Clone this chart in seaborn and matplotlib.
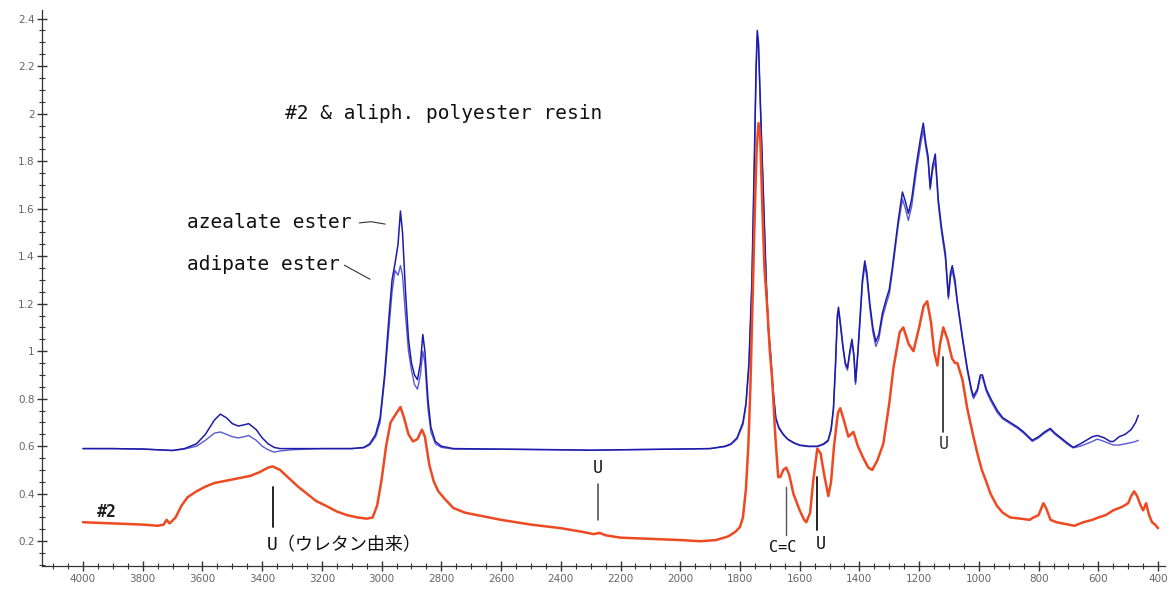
import matplotlib
matplotlib.use("Agg")
import matplotlib.pyplot as plt
import seaborn as sns
import pandas as pd
from matplotlib.ticker import MultipleLocator

# ---------------- data ----------------
wn_blue = [4000, 3900, 3800, 3750, 3700, 3660, 3620, 3590, 3560, 3540, 3520, 3500, 3480, 3460, 3445,
           3420, 3400, 3380, 3360, 3340, 3300, 3200, 3100, 3060, 3040, 3020, 3005, 2990, 2975, 2965,
           2955, 2945, 2937, 2930, 2920, 2910, 2900, 2890, 2880, 2870, 2862, 2855, 2845, 2835, 2820,
           2800, 2760, 2600, 2400, 2300, 2200, 2000, 1900, 1850, 1830, 1810, 1790, 1780, 1770, 1760,
           1752, 1746, 1742, 1738, 1733, 1728, 1720, 1712, 1705, 1698, 1690, 1680, 1670, 1655, 1640,
           1620, 1600, 1570, 1540, 1520, 1505, 1495, 1487, 1480, 1474, 1470, 1462, 1455, 1447, 1440,
           1432, 1425, 1418, 1413, 1405, 1397, 1390, 1382, 1375, 1365, 1355, 1345, 1335, 1323, 1310,
           1300, 1290, 1280, 1270, 1256, 1246, 1236, 1225, 1210, 1195, 1186, 1178, 1170, 1163, 1155,
           1146, 1140, 1136, 1125, 1112, 1102, 1095, 1089, 1080, 1072, 1055, 1039, 1025, 1018, 1005,
           995, 988, 975, 960, 938, 920, 895, 870, 850, 821, 800, 780, 761, 745, 720,
           700, 684, 660, 640, 620, 603, 580, 560, 549, 530, 510, 490, 475, 466]

abs_azealate = [0.59, 0.59, 0.588, 0.585, 0.582, 0.59, 0.61, 0.65, 0.71, 0.735, 0.72, 0.695, 0.685, 0.69, 0.695,
                0.67, 0.635, 0.61, 0.595, 0.59, 0.59, 0.59, 0.59, 0.595, 0.61, 0.65, 0.72, 0.9, 1.15, 1.3,
                1.37, 1.45, 1.59, 1.5, 1.25, 1.05, 0.95, 0.9, 0.88, 0.95, 1.07, 1.0, 0.8, 0.68, 0.62,
                0.6, 0.59, 0.588, 0.585, 0.583, 0.585, 0.588, 0.59, 0.6, 0.61, 0.635, 0.7, 0.78, 0.95, 1.3,
                1.8, 2.2, 2.35, 2.3, 2.1, 1.9, 1.6, 1.3, 1.1, 1.0, 0.85, 0.72, 0.68, 0.65, 0.63,
                0.615, 0.605, 0.6, 0.6, 0.61, 0.625, 0.67, 0.76, 0.95, 1.15, 1.185, 1.1, 1.02, 0.95, 0.93,
                1.0, 1.05, 0.98, 0.87, 1.0, 1.16, 1.3, 1.38, 1.33, 1.2, 1.1, 1.04, 1.07, 1.16, 1.22,
                1.26, 1.35, 1.45, 1.55, 1.67, 1.63, 1.58, 1.64, 1.78, 1.9, 1.96, 1.88, 1.82, 1.69, 1.78,
                1.83, 1.72, 1.64, 1.52, 1.41, 1.23, 1.33, 1.36, 1.3, 1.21, 1.06, 0.93, 0.84, 0.81, 0.84,
                0.9, 0.9, 0.84, 0.8, 0.75, 0.72, 0.7, 0.68, 0.66, 0.625, 0.64, 0.66, 0.675, 0.655, 0.63,
                0.61, 0.595, 0.61, 0.625, 0.64, 0.645, 0.635, 0.62, 0.62, 0.64, 0.65, 0.67, 0.70, 0.73]

abs_adipate = [0.59, 0.59, 0.588, 0.585, 0.582, 0.588, 0.60, 0.625, 0.655, 0.66, 0.65, 0.64, 0.635, 0.64, 0.645,
               0.625, 0.60, 0.585, 0.575, 0.58, 0.585, 0.59, 0.59, 0.593, 0.605, 0.64, 0.70, 0.88, 1.1, 1.25,
               1.34, 1.32, 1.36, 1.32, 1.15, 1.0, 0.92, 0.86, 0.84, 0.9, 1.0, 0.95, 0.76, 0.66, 0.61,
               0.595, 0.588, 0.587, 0.585, 0.583, 0.585, 0.588, 0.59, 0.598, 0.607, 0.63, 0.69, 0.77, 0.93, 1.27,
               1.76, 2.17, 2.33, 2.29, 2.08, 1.88, 1.58, 1.28, 1.09, 0.99, 0.84, 0.715, 0.675, 0.648, 0.628,
               0.613, 0.603, 0.598, 0.598, 0.607, 0.62, 0.665, 0.75, 0.93, 1.13, 1.17, 1.09, 1.01, 0.94, 0.92,
               0.99, 1.04, 0.97, 0.86, 0.99, 1.14, 1.28, 1.36, 1.31, 1.18, 1.08, 1.02, 1.05, 1.14, 1.2,
               1.24, 1.33, 1.43, 1.53, 1.64, 1.6, 1.55, 1.61, 1.75, 1.87, 1.93, 1.86, 1.8, 1.68, 1.76,
               1.8, 1.7, 1.62, 1.5, 1.39, 1.22, 1.31, 1.34, 1.28, 1.2, 1.05, 0.92, 0.83, 0.8, 0.83,
               0.89, 0.89, 0.83, 0.79, 0.74, 0.715, 0.695, 0.675, 0.655, 0.62, 0.635, 0.655, 0.67, 0.65, 0.625,
               0.605, 0.593, 0.60, 0.61, 0.62, 0.63, 0.62, 0.61, 0.605, 0.605, 0.61, 0.615, 0.62, 0.625]

wn_red = [4000, 3900, 3800, 3750, 3730, 3720, 3710, 3690, 3670, 3650, 3620, 3590, 3560, 3520, 3480,
          3440, 3410, 3380, 3365, 3340, 3310, 3280, 3250, 3220, 3180, 3150, 3116, 3080, 3050, 3030,
          3015, 3000, 2985, 2970, 2950, 2937, 2925, 2910, 2895, 2880, 2865, 2855, 2840, 2825, 2810,
          2790, 2760, 2720, 2680, 2600, 2500, 2400, 2330, 2290, 2270, 2250, 2200, 2100, 2000, 1933,
          1880, 1840, 1815, 1800, 1790, 1780, 1772, 1765, 1758, 1750, 1744, 1738, 1732, 1725, 1718,
          1709, 1700, 1692, 1682, 1672, 1665, 1655, 1645, 1635, 1621, 1600, 1585, 1578, 1565, 1555,
          1541, 1530, 1518, 1504, 1495, 1485, 1472, 1464, 1450, 1437, 1420, 1405, 1387, 1370, 1357,
          1340, 1320, 1300, 1286, 1265, 1253, 1235, 1219, 1200, 1185, 1173, 1160, 1150, 1139, 1130,
          1119, 1105, 1090, 1080, 1072, 1055, 1039, 1020, 1005, 990, 975, 961, 940, 920, 895,
          860, 830, 817, 800, 784, 775, 760, 740, 700, 680, 650, 620, 600, 575, 550,
          520, 500, 490, 480, 470, 458, 450, 440, 430, 420, 410, 400]

abs_red = [0.28, 0.275, 0.27, 0.265, 0.27, 0.29, 0.275, 0.30, 0.35, 0.385, 0.41, 0.43, 0.445, 0.455, 0.465,
           0.475, 0.49, 0.51, 0.515, 0.50, 0.465, 0.43, 0.40, 0.37, 0.345, 0.325, 0.31, 0.30, 0.295, 0.30,
           0.35, 0.46, 0.60, 0.70, 0.74, 0.765, 0.72, 0.65, 0.62, 0.63, 0.67, 0.64, 0.52, 0.45, 0.41,
           0.38, 0.34, 0.32, 0.31, 0.29, 0.27, 0.255, 0.24, 0.23, 0.235, 0.225, 0.215, 0.21, 0.205, 0.20,
           0.205, 0.22, 0.24, 0.26, 0.30, 0.42, 0.60, 0.85, 1.2, 1.6, 1.85, 1.96, 1.9, 1.6, 1.35,
           1.19, 1.0, 0.88, 0.65, 0.47, 0.47, 0.50, 0.51, 0.48, 0.40, 0.33, 0.29, 0.28, 0.32, 0.45,
           0.59, 0.57, 0.48, 0.39, 0.45, 0.60, 0.74, 0.76, 0.70, 0.64, 0.66, 0.60, 0.55, 0.51, 0.50,
           0.54, 0.61, 0.78, 0.93, 1.08, 1.10, 1.03, 1.00, 1.10, 1.19, 1.21, 1.12, 1.00, 0.94, 1.03,
           1.10, 1.05, 0.97, 0.95, 0.95, 0.88, 0.76, 0.65, 0.57, 0.50, 0.45, 0.40, 0.35, 0.32, 0.30,
           0.295, 0.29, 0.30, 0.31, 0.36, 0.34, 0.29, 0.28, 0.27, 0.265, 0.28, 0.29, 0.30, 0.31, 0.33,
           0.345, 0.36, 0.39, 0.41, 0.39, 0.35, 0.33, 0.36, 0.31, 0.28, 0.27, 0.255]

x_ticks = [4000, 3800, 3600, 3400, 3200, 3000, 2800, 2600, 2400, 2200, 2000,
           1800, 1600, 1400, 1200, 1000, 800, 600, 400]
y_ticks = [0.2, 0.4, 0.6, 0.8, 1.0, 1.2, 1.4, 1.6, 1.8, 2.0, 2.2, 2.4]
y_tick_labels = ["0.2", "0.4", "0.6", "0.8", "1", "1.2", "1.4", "1.6", "1.8", "2", "2.2", "2.4"]

title_text = "#2 & aliph. polyester resin"
label_azealate = "azealate ester"
label_adipate = "adipate ester"
label_sample = "#2"
label_urethane = "U（ウレタン由来）"

# ---------------- figure ----------------
sns.set_theme(style="white")
plt.rcParams["font.family"] = ["DejaVu Sans", "Noto Sans CJK JP"]

fig = plt.figure(figsize=(11.69, 5.91), dpi=100)
ax = fig.add_axes([0.036, 0.042, 0.961, 0.941])

df_az = pd.DataFrame({"wn": wn_blue, "A": abs_azealate})
df_ad = pd.DataFrame({"wn": wn_blue, "A": abs_adipate})
df_red = pd.DataFrame({"wn": wn_red, "A": abs_red})

sns.lineplot(data=df_ad, x="wn", y="A", ax=ax, color="#5a5ad6", lw=1.0, estimator=None, sort=True)
sns.lineplot(data=df_az, x="wn", y="A", ax=ax, color="#1c1ca8", lw=1.1, estimator=None, sort=True)
sns.lineplot(data=df_red, x="wn", y="A", ax=ax, color="#ee4a22", lw=1.8, estimator=None, sort=True)

ax.set_xlim(4137, 375)
ax.set_ylim(0.095, 2.436)
ax.set_xlabel("")
ax.set_ylabel("")

for s in ["top", "right"]:
    ax.spines[s].set_visible(False)
for s in ["left", "bottom"]:
    ax.spines[s].set_color("#333333")
    ax.spines[s].set_linewidth(0.9)

ax.set_xticks(x_ticks)
ax.set_xticklabels([str(t) for t in x_ticks])
ax.xaxis.set_minor_locator(MultipleLocator(50))
ax.set_yticks(y_ticks)
ax.set_yticklabels(y_tick_labels)
ax.yaxis.set_minor_locator(MultipleLocator(0.05))
ax.tick_params(axis="both", which="major", direction="inout", length=7, width=1.0,
               color="#333333", labelsize=7.5, labelcolor="#666666", pad=2)
ax.tick_params(axis="both", which="minor", direction="inout", length=4, width=0.8,
               color="#333333")
ax.tick_params(axis="x", which="both", bottom=True)
ax.tick_params(axis="y", which="both", left=True)

mono = ["DejaVu Sans Mono", "Noto Sans CJK JP"]

ax.text(3323, 2.00, title_text, family=mono, fontsize=14, va="center", ha="left", color="#111111")
ax.text(3652, 1.543, label_azealate, family=mono, fontsize=14, va="center", ha="left", color="#111111")
ax.text(3652, 1.366, label_adipate, family=mono, fontsize=14, va="center", ha="left", color="#111111")
ax.plot([3075, 3035, 2988], [1.54, 1.545, 1.535], color="#333333", lw=0.8)
ax.plot([3125, 3039], [1.362, 1.303], color="#333333", lw=0.8)

ax.text(3953, 0.322, label_sample, family=mono, fontsize=12, fontweight="bold",
        va="center", ha="left", color="#222222")

# marker lines and labels
ax.plot([3364, 3364], [0.259, 0.427], color="#111111", lw=1.3)
ax.text(3385, 0.183, label_urethane, family=mono, fontsize=13, va="center", ha="left", color="#111111")

ax.plot([2275, 2275], [0.29, 0.44], color="#444444", lw=1.1)
ax.text(2275, 0.51, "U", family=mono, fontsize=12, va="center", ha="center", color="#111111")

ax.plot([1645, 1645], [0.225, 0.427], color="#555555", lw=1.0)
ax.text(1658, 0.175, "C=C", family=mono, fontsize=11, va="center", ha="center", color="#111111")

ax.plot([1541, 1541], [0.246, 0.47], color="#111111", lw=1.3)
ax.text(1530, 0.19, "U", family=mono, fontsize=12, va="center", ha="center", color="#111111")

ax.plot([1119, 1119], [0.66, 0.975], color="#222222", lw=1.2)
ax.text(1119, 0.61, "U", family=mono, fontsize=12, va="center", ha="center", color="#333333")

fig.savefig("out.png", dpi=100)
